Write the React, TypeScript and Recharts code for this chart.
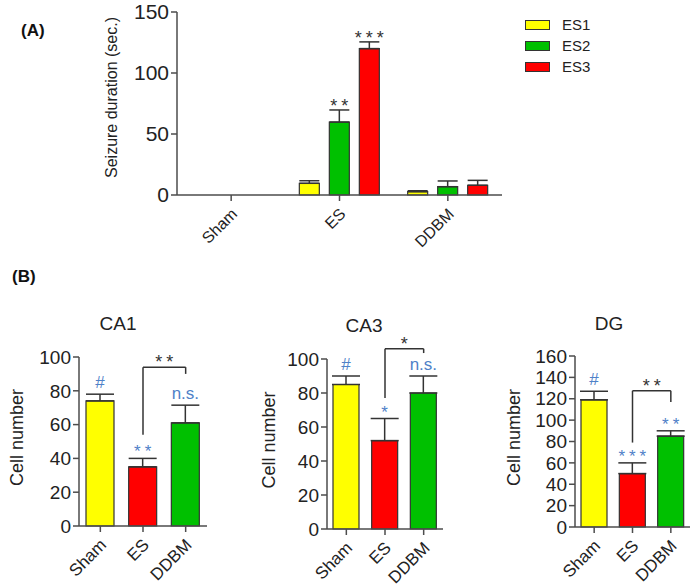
import React from 'react';
import { BarChart, Bar, XAxis, YAxis, ErrorBar, LabelList, ReferenceLine, Legend, Cell } from 'recharts';

const FONT = '"Liberation Sans", Arial, sans-serif';
const AXIS = '#4d4d4d';
const INK = '#333333';
const BLUE = '#4f81c8';
const YELLOW = '#ffff00';
const GREEN = '#00c000';
const RED = '#ff0000';

// (A) seizure duration
const groupsA = ['Sham', 'ES', 'DDBM'];
const es1 = [0, 9.6, 2.7];
const es1Err = [0, 2.1, 0.8];
const es2 = [0, 59.8, 6.8];
const es2Err = [0, 9.9, 4.7];
const es3 = [0, 120, 8];
const es3Err = [0, 5.5, 4];
const es1Sig = ['', '', ''];
const es2Sig = ['', '**', ''];
const es3Sig = ['', '***', ''];
const ticksA = [0, 50, 100, 150];

// (B) cell counts
const groupsB = ['Sham', 'ES', 'DDBM'];
const colorsB = [YELLOW, RED, GREEN];
const ca1 = [74, 35, 61];
const ca1Err = [4, 5, 10.5];
const ca1Sig = ['#', '**', 'n.s.'];
const ca1Bracket = [54, 94, 90]; // ES start, top, DDBM end
const ca1BracketSig = '**';
const ca3 = [85, 52, 80];
const ca3Err = [5, 13, 10];
const ca3Sig = ['#', '*', 'n.s.'];
const ca3Bracket = [77, 106, 103.5];
const ca3BracketSig = '*';
const dg = [119, 50, 85];
const dgErr = [8, 10, 5];
const dgSig = ['#', '***', '**'];
const dgBracket = [79, 127.5, 117];
const dgBracketSig = '**';
const ticks100 = [0, 20, 40, 60, 80, 100];
const ticks160 = [0, 20, 40, 60, 80, 100, 120, 140, 160];

const XTick = ({ x, y, payload, fontSize }: any) => {
  const ax = x + 7;
  const ay = y + 12;
  return (
    <text x={ax} y={ay} transform={`rotate(-45 ${ax} ${ay})`} textAnchor="end" fontSize={fontSize} fontFamily={FONT} fill="#222">
      {payload.value}
    </text>
  );
};

const yTitle = (text: string, x: number, dy: number, fontSize: number) => (props: any) => {
  const vb = props.viewBox;
  const cy = vb.y + vb.height / 2 + dy;
  return (
    <text x={x} y={cy} transform={`rotate(-90 ${x} ${cy})`} textAnchor="middle" fontSize={fontSize} fontFamily={FONT} fill="#222">
      {text}
    </text>
  );
};

// significance marks sit above the error cap; px per unit is taken from the bar itself.
// LabelList dataKey is the category name, so zero-height bars being skipped can't shift the lookup.
const sigContent = (groups: string[], sig: string[], vals: number[], errs: number[], fill: string, fontSize: number, starOff: number) => (props: any) => {
  const vb = props.viewBox ?? props;
  const i = groups.indexOf(props.value);
  const text = sig[i];
  if (i < 0 || !text || !vals[i]) return null;
  const top = vb.y - (errs[i] * vb.height) / vals[i];
  const star = text.includes('*');
  const ls = star ? 4 : 0;
  return (
    <text x={vb.x + vb.width / 2 + ls / 2} y={star ? top + starOff : top - 6} textAnchor="middle" fill={fill} fontSize={fontSize} fontFamily={FONT} letterSpacing={ls}>
      {text}
    </text>
  );
};

const bracketLabel = (text: string) => (props: any) => {
  const vb = props.viewBox;
  return (
    <text x={vb.x + vb.width / 2 + 2} y={vb.y + 1} textAnchor="middle" fill={INK} fontSize={18} fontFamily={FONT} letterSpacing={4}>
      {text}
    </text>
  );
};

const LegendA = ({ payload }: any) => (
  <div style={{ fontFamily: FONT, fontSize: 15, color: '#222' }}>
    {payload.map((p: any) => (
      <div key={p.value} style={{ display: 'flex', alignItems: 'center', height: 21 }}>
        <span style={{ display: 'inline-block', width: 23, height: 8, background: p.color, border: `1.5px solid ${INK}`, marginRight: 12 }} />
        {p.value}
      </div>
    ))}
  </div>
);

const dataA = groupsA.map((g, i) => ({
  name: g,
  es1: es1[i],
  es1Err: [0, es1Err[i]],
  es2: es2[i],
  es2Err: [0, es2Err[i]],
  es3: es3[i],
  es3Err: [0, es3Err[i]],
}));

const seriesA = [
  { key: 'es1', name: 'ES1', color: YELLOW, vals: es1, errs: es1Err, sig: es1Sig },
  { key: 'es2', name: 'ES2', color: GREEN, vals: es2, errs: es2Err, sig: es2Sig },
  { key: 'es3', name: 'ES3', color: RED, vals: es3, errs: es3Err, sig: es3Sig },
];

const PanelA = () => (
  <div style={{ position: 'absolute', left: 0, top: 0 }}>
    <BarChart width={697} height={270} data={dataA} margin={{ top: 12, right: 195, left: 0, bottom: 15 }} barSize={20} barGap={10}>
      <XAxis dataKey="name" height={60} interval={0} stroke={AXIS} strokeWidth={1.5} tickSize={6} tick={(p: any) => <XTick {...p} fontSize={16} />} />
      <YAxis
        width={177}
        domain={[0, 150]}
        ticks={ticksA}
        interval={0}
        stroke={AXIS}
        strokeWidth={1.5}
        tickSize={6}
        tick={{ fontSize: 21, fontFamily: FONT, fill: '#222' }}
        label={{ content: yTitle('Seizure duration (sec.)', 117, -6, 16) }}
      />
      <Legend
        layout="horizontal"
        verticalAlign="middle"
        align="center"
        wrapperStyle={{ position: 'absolute', left: 525, top: 14, width: 120 }}
        content={<LegendA />}
      />
      {seriesA.map((s) => (
        <Bar key={s.key} dataKey={s.key} name={s.name} fill={s.color} stroke={INK} strokeWidth={1.2} isAnimationActive={false}>
          <ErrorBar dataKey={`${s.key}Err`} width={10} stroke={INK} strokeWidth={1.5} direction="y" />
          <LabelList dataKey="name" content={sigContent(groupsA, s.sig, s.vals, s.errs, INK, 18, 2)} />
        </Bar>
      ))}
    </BarChart>
  </div>
);

type CellProps = {
  left: number;
  width: number;
  yWidth: number;
  top: number;
  bottom: number;
  rightPad: number;
  max: number;
  ticks: number[];
  vals: number[];
  errs: number[];
  sig: string[];
  bracket: number[];
  bracketSig: string;
  labelX: number;
  barSize: number;
};

const CellPanel = ({ left, width, yWidth, top, bottom, rightPad, max, ticks, vals, errs, sig, bracket, bracketSig, labelX, barSize }: CellProps) => {
  const height = 298;
  const data = groupsB.map((g, i) => ({ name: g, mean: vals[i], err: [0, errs[i]] }));
  return (
    <div style={{ position: 'absolute', left, top: 290 }}>
      <BarChart width={width} height={height} data={data} margin={{ top, right: rightPad, left: 0, bottom: height - bottom - 50 }} barSize={barSize}>
        <XAxis dataKey="name" height={50} interval={0} stroke={AXIS} strokeWidth={1.5} tickSize={6} tick={(p: any) => <XTick {...p} fontSize={17} />} />
        <YAxis
          width={yWidth}
          domain={[0, max]}
          ticks={ticks}
          interval={0}
          stroke={AXIS}
          strokeWidth={1.5}
          tickSize={6}
          tick={{ fontSize: 19, fontFamily: FONT, fill: '#222' }}
          label={{ content: yTitle('Cell number', labelX, -4, 18) }}
        />
        <Bar dataKey="mean" stroke={INK} strokeWidth={1.2} isAnimationActive={false}>
          {data.map((d, i) => (
            <Cell key={d.name} fill={colorsB[i]} />
          ))}
          <ErrorBar dataKey="err" width={14} stroke={INK} strokeWidth={1.5} direction="y" />
          <LabelList dataKey="name" content={sigContent(groupsB, sig, vals, errs, BLUE, 17, -1)} />
        </Bar>
        <ReferenceLine segment={[{ x: 'ES', y: bracket[0] }, { x: 'ES', y: bracket[1] }]} stroke={INK} strokeWidth={1.5} ifOverflow="visible" />
        <ReferenceLine
          segment={[{ x: 'ES', y: bracket[1] }, { x: 'DDBM', y: bracket[1] }]}
          stroke={INK}
          strokeWidth={1.5}
          ifOverflow="visible"
          label={{ content: bracketLabel(bracketSig) }}
        />
        <ReferenceLine segment={[{ x: 'DDBM', y: bracket[1] }, { x: 'DDBM', y: bracket[2] }]} stroke={INK} strokeWidth={1.5} ifOverflow="visible" />
      </BarChart>
    </div>
  );
};

export default function App() {
  return (
    <div style={{ position: 'absolute', left: 0, top: 0, width: 697, height: 588, background: '#fff', fontFamily: FONT }}>
      <PanelA />
      <CellPanel left={0} width={230} yWidth={79} top={67} bottom={236} rightPad={23} max={100} ticks={ticks100} vals={ca1} errs={ca1Err} sig={ca1Sig} bracket={ca1Bracket} bracketSig={ca1BracketSig} labelX={23} barSize={28} />
      <CellPanel left={230} width={230} yWidth={97} top={69} bottom={239} rightPad={17} max={100} ticks={ticks100} vals={ca3} errs={ca3Err} sig={ca3Sig} bracket={ca3Bracket} bracketSig={ca3BracketSig} labelX={45} barSize={26} />
      <CellPanel left={460} width={237} yWidth={115} top={66} bottom={237} rightPad={7} max={160} ticks={ticks160} vals={dg} errs={dgErr} sig={dgSig} bracket={dgBracket} bracketSig={dgBracketSig} labelX={60} barSize={26} />
      <svg width={697} height={588} style={{ position: 'absolute', left: 0, top: 0, pointerEvents: 'none' }}>
        <text x={21} y={36} fontSize={17} fontWeight="bold" fontFamily={FONT} fill="#111">(A)</text>
        <text x={12} y={282} fontSize={17} fontWeight="bold" fontFamily={FONT} fill="#111">(B)</text>
        <text x={118} y={330} fontSize={19} textAnchor="middle" fontFamily={FONT} fill="#222">CA1</text>
        <text x={364} y={332} fontSize={19} textAnchor="middle" fontFamily={FONT} fill="#222">CA3</text>
        <text x={609} y={330} fontSize={19} textAnchor="middle" fontFamily={FONT} fill="#222">DG</text>
      </svg>
    </div>
  );
}
